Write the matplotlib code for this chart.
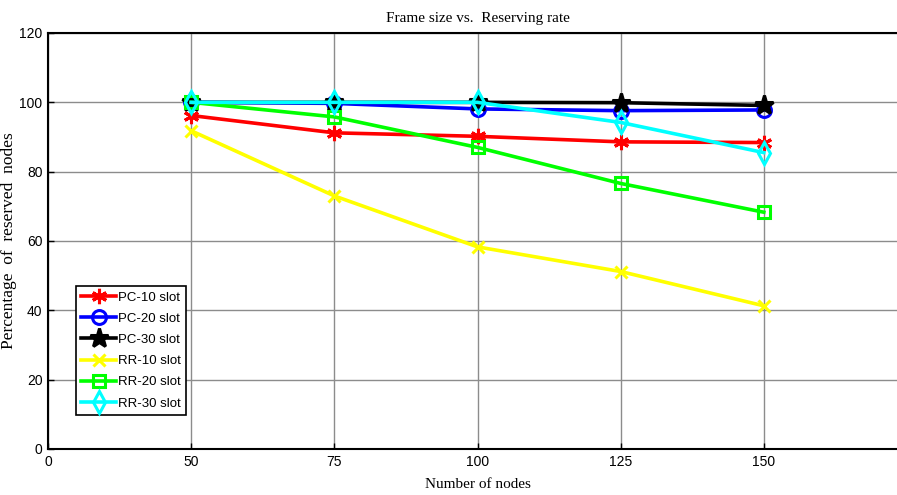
import matplotlib
matplotlib.use("Agg")
import matplotlib.pyplot as plt

# data
nodes = ["0", "50", "75", "100", "125", "150"]
x_pos = [1, 2, 3, 4, 5]

pc10 = [96.2, 91.2, 90.2, 88.6, 88.4]
pc20 = [100.0, 99.7, 98.1, 97.6, 97.8]
pc30 = [100.0, 100.0, 100.0, 99.9, 99.1]
rr10 = [91.8, 73.0, 58.3, 51.2, 41.3]
rr20 = [100.0, 95.8, 87.0, 76.6, 68.3]
rr30 = [100.0, 100.0, 100.0, 94.2, 85.5]

series = [
    ("PC-10 slot", pc10, "#ff0000", (6, 2, 0), 11),
    ("PC-20 slot", pc20, "#0000ff", "o", 10),
    ("PC-30 slot", pc30, "#000000", "*", 14),
    ("RR-10 slot", rr10, "#ffff00", "x", 9),
    ("RR-20 slot", rr20, "#00ff00", "s", 9),
    ("RR-30 slot", rr30, "#00ffff", "d", 11),
]

tick_font = ["Liberation Sans Narrow", "Liberation Sans", "DejaVu Sans"]
serif_font = ["Liberation Serif", "DejaVu Serif"]

fig = plt.figure(figsize=(8.97, 4.95), dpi=100)
ax = fig.add_axes([48 / 897, 46 / 495, 859 / 897, 416 / 495])

for label, vals, color, marker, ms in series:
    ax.plot(x_pos, vals, color=color, lw=2.6, marker=marker, ms=ms,
            mfc="none" if marker in ("o", "s", "d") else color,
            mec=color, mew=2.2, label=label)

ax.set_xlim(0, 6)
ax.set_ylim(0, 120)
ax.set_xticks(range(len(nodes)))
ax.set_xticklabels(nodes)
ax.set_yticks(range(0, 121, 20))
for t in ax.get_xticklabels() + ax.get_yticklabels():
    t.set_family(tick_font)
    t.set_fontsize(10)

ax.grid(True, color="#8c8c8c", lw=1, ls="-")
ax.tick_params(direction="in", length=4, width=1, pad=4)
for s in ax.spines.values():
    s.set_linewidth(1.5)

ax.set_title("Frame size vs.  Reserving rate", family=serif_font, fontsize=11, pad=8)
ax.set_xlabel("Number of nodes", family=serif_font, fontsize=11)
ax.set_ylabel("Percentage  of  reserved  nodes", family=serif_font, fontsize=12.5)
ax.xaxis.set_label_coords(0.5, -0.07)
ax.yaxis.set_label_coords(-0.036, 0.5)

leg = ax.legend(loc="lower left", bbox_to_anchor=(0.025, 0.066), fancybox=False,
                edgecolor="black", framealpha=1, handlelength=2.6,
                prop={"family": tick_font, "size": 9.5}, labelspacing=0.68,
                borderpad=0.4, handletextpad=0.2)
leg.get_frame().set_linewidth(1.2)

fig.savefig("out.png", dpi=100)
